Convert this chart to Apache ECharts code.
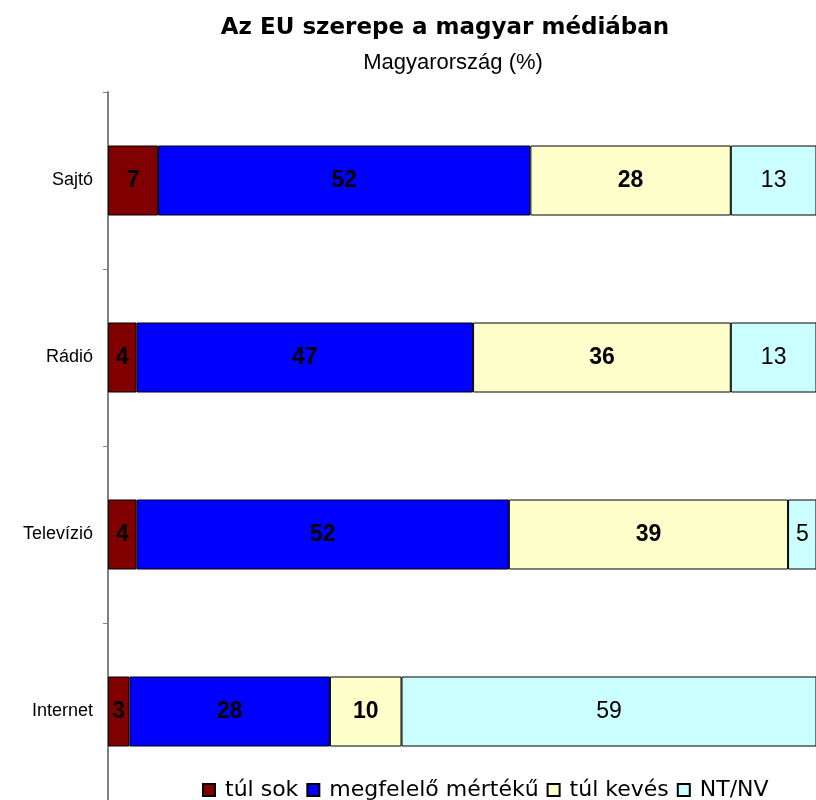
<!DOCTYPE html>
<html>
<head>
<meta charset="utf-8">
<script src="https://cdn.jsdelivr.net/npm/echarts@6/dist/echarts.min.js"></script>
<style>
  html, body { margin: 0; padding: 0; background: #fff; }
  #chart { width: 816px; height: 800px; }
</style>
</head>
<body>
<div id="chart"></div>
<script>
const categories = ["Sajtó", "Rádió", "Televízió", "Internet"];
const seriesNames = ["túl sok", "megfelelő mértékű", "túl kevés", "NT/NV"];
const tulSok = [7, 4, 4, 3];
const megfelelo = [52, 47, 52, 28];
const tulKeves = [28, 36, 39, 10];
const ntnv = [13, 13, 5, 59];

const colors = ["#800000", "#0000FF", "#FFFFCC", "#CCFFFF"];
const values = [tulSok, megfelelo, tulKeves, ntnv];
const arial = "Liberation Sans, Arial, sans-serif";
const wide = "DejaVu Sans, Verdana, sans-serif";

const chart = echarts.init(document.getElementById("chart"), null, { renderer: "canvas" });

const series = seriesNames.map((name, i) => ({
  name,
  type: "bar",
  stack: "total",
  data: values[i],
  barWidth: 70,
  itemStyle: { color: colors[i], borderColor: "#000", borderWidth: 1 },
  label: {
    show: true,
    position: "inside",
    color: "#000",
    fontFamily: arial,
    fontSize: 23,
    fontWeight: i === 3 ? "normal" : "bold"
  }
}));

chart.setOption({
  animation: false,
  backgroundColor: "#fff",
  title: [
    {
      text: "Az EU szerepe a magyar médiában",
      left: 440,
      textAlign: "center",
      top: 12,
      textStyle: { fontFamily: wide, fontSize: 23, fontWeight: "bold", color: "#000" }
    },
    {
      text: "Magyarország (%)",
      left: 448,
      textAlign: "center",
      top: 47,
      textStyle: { fontFamily: arial, fontSize: 22, fontWeight: "normal", color: "#000" }
    }
  ],
  legend: {
    data: seriesNames,
    left: 197,
    top: 773,
    icon: "rect",
    itemWidth: 12,
    itemHeight: 12,
    itemGap: 8,
    textStyle: { fontFamily: wide, fontSize: 22, color: "#000", lineHeight: 24, padding: [0, 0, 0, 5] }
  },
  grid: { left: 108, top: 92, right: 0, height: 716, containLabel: false },
  xAxis: {
    type: "value",
    min: 0,
    max: 98.9,
    show: false
  },
  yAxis: {
    type: "category",
    data: categories,
    inverse: true,
    axisLine: { show: true, lineStyle: { color: "#808080", width: 2 } },
    axisTick: { show: true, length: 5, lineStyle: { color: "#808080" } },
    axisLabel: { fontFamily: arial, fontSize: 18, color: "#000", margin: 15 }
  },
  series
});
</script>
</body>
</html>
